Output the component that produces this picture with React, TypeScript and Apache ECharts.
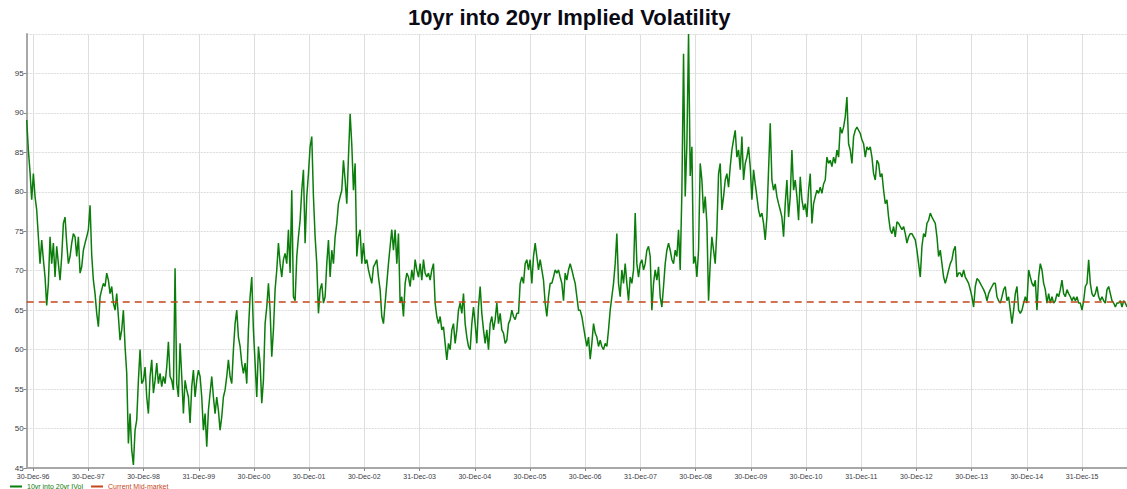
import React, { useEffect, useRef } from 'react';
import * as echarts from 'echarts';

const chartTitle = '10yr into 20yr Implied Volatility';
const seriesNames = ['10yr into 20yr IVol', 'Current Mid-market'];
const currentMid = 66.05;

// year-end tick dates shown on the x axis
const tickDates = [
  '1996-12-30', '1997-12-30', '1998-12-30', '1999-12-31', '2000-12-30',
  '2001-12-30', '2002-12-30', '2003-12-31', '2004-12-30', '2005-12-30',
  '2006-12-30', '2007-12-31', '2008-12-30', '2009-12-30', '2010-12-30',
  '2011-12-31', '2012-12-30', '2013-12-30', '2014-12-30', '2015-12-31',
];
const monthNames = ['Jan', 'Feb', 'Mar', 'Apr', 'May', 'Jun', 'Jul', 'Aug', 'Sep', 'Oct', 'Nov', 'Dec'];

// observations, one every ~11 days starting mid-Nov 1996
const firstObs = '1996-11-17';
const obsStepDays = 11.03;

const volNov96toDec01 = [
  89.1, 85.3, 82.5, 79.0, 82.3, 79.4, 77.7, 74.3, 70.9, 73.9, 71.4, 69.2, 65.6, 68.4, 74.3, 70.9,
  73.5, 69.2, 73.1, 70.9, 68.8, 71.8, 76.0, 76.8, 73.5, 70.9, 71.8, 73.5, 74.7, 74.3, 71.8, 74.3,
  69.7, 70.5, 72.6, 73.5, 74.3, 75.2, 78.3, 72.0, 68.8, 67.1, 64.6, 62.9, 66.7, 67.6, 68.4, 68.0,
  69.7, 68.8, 67.1, 68.0, 65.9, 65.0, 67.1, 64.2, 61.2, 62.5, 65.0, 60.4, 57.0, 48.1, 51.9, 47.3,
  45.4, 49.8, 51.1, 56.1, 60.0, 55.7, 56.1, 57.8, 54.0, 51.9, 56.6, 58.7, 54.5, 56.1, 58.3, 55.7,
  57.0, 55.3, 56.6, 55.7, 57.8, 61.0, 56.6, 56.1, 54.9, 70.3, 55.7, 54.0, 60.8, 56.6, 51.9, 56.1,
  54.9, 54.0, 50.7, 55.3, 57.4, 54.0, 56.1, 57.4, 56.6, 54.0, 49.8, 51.9, 47.7, 52.3, 54.5, 56.6,
  54.0, 51.9, 54.0, 52.3, 49.8, 51.5, 54.0, 54.9, 56.6, 58.7, 56.6, 55.7, 60.0, 63.3, 65.0, 61.6,
  60.4, 58.3, 57.0, 58.3, 55.7, 62.5, 66.7, 69.2, 62.5, 58.3, 54.0, 60.4, 58.3, 53.2, 56.1, 63.3,
  65.4, 68.4, 65.0, 59.1, 62.5, 67.6, 70.1, 73.5, 70.9, 69.2, 71.4, 72.2, 70.9, 75.2, 69.7, 80.2,
  66.7, 66.2, 71.8, 74.3, 76.4, 80.2, 82.8, 73.5, 79.4, 82.3, 85.7, 87.0, 79.4, 74.3, 70.9, 64.6,
  67.6,
];

const volJan02toMar07 = [
  68.4, 65.9, 66.7, 70.9, 73.9, 69.2, 72.6, 70.9, 74.3, 76.0, 78.5, 79.4, 80.2, 84.0, 81.5, 78.5,
  84.4, 89.9, 86.0, 80.2, 83.6, 71.8, 74.3, 75.2, 70.9, 73.5, 70.9, 71.4, 70.1, 69.2, 68.4, 70.5,
  70.9, 71.4, 69.2, 67.6, 64.2, 63.3, 65.9, 68.4, 70.9, 73.1, 75.2, 72.6, 75.2, 70.9, 74.7, 65.9,
  66.7, 64.2, 68.4, 69.7, 69.2, 68.0, 70.1, 68.8, 71.4, 70.1, 69.2, 70.9, 68.8, 71.4, 69.7, 69.2,
  69.7, 68.8, 70.1, 70.9, 65.9, 64.2, 63.3, 64.2, 62.5, 62.9, 60.8, 58.7, 60.8, 60.0, 62.5, 63.3,
  60.8, 62.5, 65.0, 65.9, 64.6, 67.1, 63.3, 61.6, 60.4, 60.0, 63.3, 65.4, 63.3, 60.8, 65.4, 68.0,
  64.6, 62.5, 60.8, 62.5, 60.0, 63.3, 64.2, 62.5, 63.8, 65.9, 63.3, 64.6, 62.5, 62.1, 60.8, 61.2,
  63.3, 63.8, 65.0, 64.2, 63.8, 64.6, 64.6, 68.4, 69.2, 68.4, 70.9, 71.4, 70.1, 71.4, 68.4, 71.8,
  73.5, 71.8, 70.1, 71.4, 70.1, 68.8, 65.9, 64.2, 66.7, 68.4, 68.4, 69.2, 70.1, 69.7, 70.1, 69.2,
  68.4, 66.2, 69.7, 68.8, 70.1, 70.9, 70.1, 69.2, 68.4, 66.7, 65.0, 65.0, 64.2, 62.9, 61.6, 60.4,
  61.6, 58.8, 60.8, 63.3, 62.1, 61.6, 60.4, 61.2,
];

const volMar07toMay12 = [
  60.4, 60.0, 60.8, 60.4, 62.5, 65.0, 66.7, 68.4, 70.9, 74.7, 68.4, 66.7, 70.1, 68.4, 70.9, 68.4,
  66.2, 69.2, 68.4, 70.1, 77.3, 70.9, 69.2, 70.9, 71.4, 70.1, 70.9, 72.6, 73.1, 71.8, 65.0, 68.4,
  70.1, 68.8, 70.5, 66.7, 65.4, 68.0, 70.9, 72.6, 73.5, 72.6, 71.4, 70.9, 72.6, 71.8, 75.2, 70.1,
  80.0, 97.5, 79.4, 86.0, 100.0, 82.0, 85.7, 70.9, 71.8, 69.2, 72.6, 83.6, 81.5, 77.3, 79.4, 76.0,
  66.2, 70.9, 74.3, 72.6, 70.9, 75.2, 82.3, 83.6, 77.7, 79.4, 81.5, 82.3, 80.6, 83.2, 85.3, 86.6,
  87.8, 84.4, 85.3, 82.8, 87.0, 81.5, 83.6, 84.4, 85.7, 83.2, 79.0, 82.8, 81.0, 79.4, 77.7, 76.8,
  77.3, 76.0, 73.9, 76.8, 82.8, 88.7, 81.5, 80.2, 81.0, 79.4, 78.5, 77.7, 76.8, 74.3, 78.5, 81.5,
  76.8, 79.4, 85.3, 80.2, 81.5, 79.4, 76.4, 81.9, 79.0, 77.7, 78.5, 76.8, 80.2, 82.3, 76.0, 78.5,
  79.4, 80.2, 79.8, 80.6, 79.8, 81.0, 81.5, 84.4, 83.6, 84.0, 83.2, 84.4, 83.6, 85.3, 84.4, 88.2,
  87.4, 88.2, 89.5, 92.0, 86.1, 85.3, 83.6, 87.0, 87.8, 88.2, 87.8, 87.4, 86.6, 86.1, 84.4, 85.7,
  85.3, 85.7, 84.4, 82.3, 81.5, 84.0, 83.6, 81.9,
];

const volMay12toOct16 = [
  82.3, 80.2, 78.5, 79.0, 76.8, 75.2, 74.7, 75.6, 74.3, 76.2, 76.0, 75.6, 75.2, 75.6, 74.7, 73.5,
  74.3, 74.7, 74.7, 74.3, 73.9, 72.6, 70.9, 69.2, 73.1, 74.7, 74.3, 76.0, 76.4, 77.3, 76.8, 76.4,
  76.0, 74.3, 71.8, 72.6, 70.9, 69.2, 68.4, 69.2, 70.1, 70.9, 71.4, 72.6, 73.1, 69.2, 69.7, 69.7,
  69.2, 70.1, 69.2, 68.8, 68.4, 67.6, 66.7, 65.4, 68.0, 69.0, 68.8, 68.4, 68.0, 67.6, 67.1, 66.2,
  67.1, 67.6, 68.0, 68.4, 68.4, 66.7, 66.2, 65.9, 66.7, 67.6, 68.0, 66.2, 66.7, 65.0, 63.3, 65.0,
  67.1, 68.0, 65.0, 64.6, 65.0, 65.9, 66.7, 65.9, 70.1, 69.2, 68.4, 68.0, 68.8, 65.0, 69.2, 70.9,
  70.1, 68.4, 67.6, 65.9, 67.1, 65.9, 66.7, 65.9, 66.2, 67.1, 66.7, 67.6, 68.8, 67.1, 66.7, 67.6,
  67.1, 66.7, 66.2, 66.7, 66.2, 66.7, 65.9, 65.9, 65.0, 66.2, 68.0, 68.4, 71.4, 68.4, 67.1, 66.7,
  67.1, 68.0, 66.7, 66.2, 66.7, 66.2, 65.9, 67.6, 68.0, 67.1, 66.2, 65.9, 65.4, 65.9, 65.9, 66.2,
  65.4, 66.2, 65.9, 65.4,
];

const GREEN = '#0b7d0b';
const RED = '#c4461a';
const FONT = '"Liberation Sans", Arial, sans-serif';

const toUTC = (s: string) => {
  const [y, m, d] = s.split('-').map(Number);
  return Date.UTC(y, m - 1, d);
};

const formatTick = (v: number) => {
  const d = new Date(v);
  return `${d.getUTCDate()}-${monthNames[d.getUTCMonth()]}-${String(d.getUTCFullYear()).slice(2)}`;
};

export default function App() {
  const ref = useRef<HTMLDivElement>(null);

  useEffect(() => {
    if (!ref.current) return;
    const chart = echarts.init(ref.current, undefined, { renderer: 'svg' });

    const values = [...volNov96toDec01, ...volJan02toMar07, ...volMar07toMay12, ...volMay12toOct16];
    const start = toUTC(firstObs) + 10 * 3600 * 1000;
    const stepMs = obsStepDays * 86400000;
    const volData = values.map((v, i) => [start + i * stepMs, v]);
    const end = start + (values.length - 1) * stepMs;
    const ticks = tickDates.map(toUTC);

    chart.setOption({
      animation: false,
      backgroundColor: '#ffffff',
      textStyle: { fontFamily: FONT },
      title: {
        text: chartTitle,
        left: 408,
        top: 6,
        padding: 0,
        textStyle: { fontSize: 22, fontWeight: 'bold', color: '#0b0b16', fontFamily: FONT },
      },
      legend: {
        left: 10,
        top: 483,
        padding: 0,
        icon: 'rect',
        itemWidth: 12,
        itemHeight: 2,
        itemGap: 8,
        textStyle: { fontSize: 7, fontFamily: FONT },
        data: [
          { name: seriesNames[0], textStyle: { color: GREEN } },
          { name: seriesNames[1], textStyle: { color: RED } },
        ],
      },
      grid: { left: 26.7, right: 0, top: 34, bottom: 21, containLabel: false },
      xAxis: {
        type: 'value',
        min: start,
        max: end,
        axisLine: { show: true, onZero: false, lineStyle: { color: '#a8a8a8', width: 2 } },
        axisTick: { show: true, length: 3, lineStyle: { color: '#888' }, customValues: ticks },
        axisLabel: {
          customValues: ticks,
          formatter: (v: number) => formatTick(v),
          fontSize: 7,
          color: '#3a3a44',
          margin: 5,
          fontFamily: FONT,
        },
        splitLine: { show: true, lineStyle: { color: '#dedede', width: 1, type: 'solid' } },
      },
      yAxis: {
        type: 'value',
        min: 45,
        max: 100,
        interval: 5,
        axisLine: { show: true, lineStyle: { color: '#a8a8a8', width: 2 } },
        axisTick: { show: true, length: 3, lineStyle: { color: '#888' } },
        axisLabel: {
          fontSize: 8,
          color: '#3a3a44',
          margin: 3,
          showMaxLabel: false,
          fontFamily: FONT,
        },
        splitLine: { show: true, lineStyle: { color: '#dcdcdc', width: 1, type: [2, 1] } },
      },
      series: [
        {
          name: seriesNames[0],
          type: 'line',
          data: volData,
          symbol: 'none',
          showSymbol: false,
          color: GREEN,
          lineStyle: { color: GREEN, width: 1.5 },
          z: 2,
        },
        {
          name: seriesNames[1],
          type: 'line',
          data: [[start, currentMid], [end, currentMid]],
          symbol: 'none',
          showSymbol: false,
          color: RED,
          lineStyle: { color: RED, width: 1.5, type: [7, 5] },
          z: 3,
        },
      ],
    });

    return () => chart.dispose();
  }, []);

  return (
    <div
      ref={ref}
      style={{ position: 'fixed', left: 0, top: 0, width: 1127, height: 489, background: '#fff' }}
    />
  );
}
